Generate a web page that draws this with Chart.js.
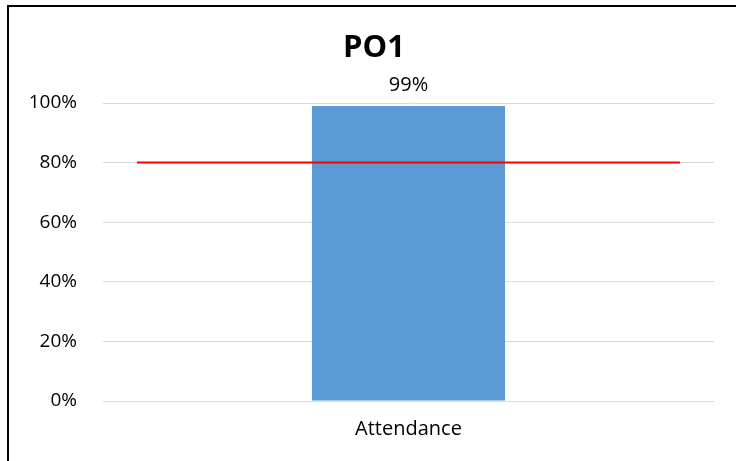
<!DOCTYPE html>
<html>
<head>
<meta charset="utf-8">
<script src="https://cdn.jsdelivr.net/npm/chart.js@4/dist/chart.umd.min.js"></script>
<style>
  html, body { margin: 0; padding: 0; background: #ffffff; overflow: hidden; }
  #wrap { position: relative; width: 736px; height: 461px; }
  #frame { position: absolute; left: 7px; top: 5px; width: 800px; height: 600px; border: 2px solid #000; box-sizing: border-box; pointer-events: none; }
  canvas { position: absolute; left: 0; top: 0; }
</style>
</head>
<body>
<div id="wrap">
  <canvas id="c" width="736" height="461"></canvas>
  <div id="frame"></div>
</div>
<script>
const chartTitle = 'PO1';
const categories = ['Attendance'];
const barValues = [99];
const targetValue = 80;
const targetLine = [{ x: 0, y: targetValue }, { x: 1, y: targetValue }];
const yTicks = [0, 20, 40, 60, 80, 100];

const FONT = "'Open Sans', 'Liberation Sans', sans-serif";

const barLabelPlugin = {
  id: 'barLabel',
  afterDatasetsDraw(chart) {
    const ctx = chart.ctx;
    const meta = chart.getDatasetMeta(1);
    ctx.save();
    ctx.fillStyle = '#000';
    ctx.font = '20px ' + FONT;
    ctx.textAlign = 'center';
    ctx.textBaseline = 'middle';
    meta.data.forEach((el, i) => {
      ctx.fillText(barValues[i] + '%', el.x, el.y - 21);
    });
    ctx.restore();
  }
};

new Chart(document.getElementById('c'), {
  type: 'bar',
  data: {
    labels: categories,
    datasets: [
      {
        type: 'line',
        data: targetLine,
        xAxisID: 'x2',
        borderColor: '#ff0000',
        borderWidth: 2,
        pointRadius: 0,
        order: 0
      },
      {
        type: 'bar',
        data: barValues,
        xAxisID: 'x',
        backgroundColor: '#5b9bd5',
        grouped: false,
        categoryPercentage: 1,
        barPercentage: 0.316,
        order: 1
      }
    ]
  },
  options: {
    responsive: false,
    animation: false,
    devicePixelRatio: 1,
    layout: { padding: { left: 12, right: 0, top: 0, bottom: 0 } },
    plugins: {
      legend: { display: false },
      tooltip: { enabled: false },
      title: {
        display: true,
        text: chartTitle,
        color: '#000',
        font: { family: FONT, size: 31, weight: 'bold', lineHeight: 1.2 },
        padding: { top: 30, bottom: 35.8 }
      }
    },
    scales: {
      x: {
        type: 'category',
        offset: true,
        grid: { display: false, drawTicks: false },
        border: { display: false },
        ticks: { color: '#000', font: { family: FONT, size: 20 }, padding: 16 },
        afterFit(axis) { axis.height = 60; }
      },
      x2: {
        type: 'linear',
        display: false,
        offset: false,
        min: -0.0625,
        max: 1.0625
      },
      y: {
        type: 'linear',
        min: 0,
        max: 100,
        afterBuildTicks(axis) { axis.ticks = yTicks.map(v => ({ value: v })); },
        grid: { color: '#d9d9d9', lineWidth: 1, drawTicks: false },
        border: { display: false },
        ticks: {
          color: '#000',
          font: { family: FONT, size: 19 },
          padding: 26,
          callback: v => v + '%'
        },
        afterFit(axis) { axis.width = 91; }
      },
      yRight: {
        type: 'linear',
        position: 'right',
        min: 0,
        max: 100,
        grid: { display: false, drawTicks: false },
        border: { display: false },
        ticks: { display: false },
        afterFit(axis) { axis.width = 22; }
      }
    }
  },
  plugins: [barLabelPlugin]
});
</script>
</body>
</html>
